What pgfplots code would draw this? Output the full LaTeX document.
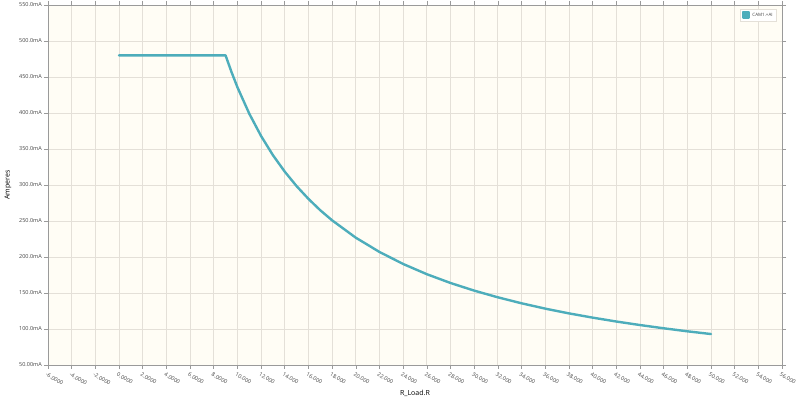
\documentclass[border=0pt]{standalone}
\usepackage{fontspec}
\setmainfont{Open Sans}
\usepackage{pgfplots}
\pgfplotsset{compat=1.18}
\definecolor{curve}{HTML}{4DADBB}
\definecolor{plotbg}{HTML}{FFFDF5}
\definecolor{gridc}{HTML}{E4E0D8}
\definecolor{axisc}{HTML}{9A9A9A}
\definecolor{labc}{HTML}{444444}
\begin{document}
\begin{tikzpicture}
\begin{axis}[
  scale only axis,
  width=734pt, height=360pt,
  xmin=-6, xmax=56, ymin=50, ymax=550,
  axis background/.style={fill=plotbg},
  axis line style={axisc, line width=0.8pt},
  grid=major,
  major grid style={gridc, line width=0.8pt},
  tick align=outside,
  major tick length=4pt,
  tick style={axisc, line width=0.6pt},
  xtick={-6,-4,...,56},
  xticklabels={-6.0000,-4.0000,-2.0000,0.0000,2.0000,4.0000,6.0000,8.0000,10.000,12.000,14.000,16.000,18.000,20.000,22.000,24.000,26.000,28.000,30.000,32.000,34.000,36.000,38.000,40.000,42.000,44.000,46.000,48.000,50.000,52.000,54.000,56.000},
  ytick={50,100,...,550},
  yticklabels={50.00mA,100.0mA,150.0mA,200.0mA,250.0mA,300.0mA,350.0mA,400.0mA,450.0mA,500.0mA,550.0mA},
  xticklabel style={font=\fontsize{5.5}{6}\selectfont, labc, rotate=-30, anchor=north west, inner sep=1pt, yshift=-2pt, xshift=0pt},
  yticklabel style={font=\fontsize{5.5}{6}\selectfont, labc, inner sep=1pt, xshift=-1pt},
  xlabel={R\_Load.R},
  ylabel={Amperes},
  xlabel style={font=\fontsize{7}{8}\selectfont, at={(axis description cs:0.5,0)}, anchor=center, yshift=-28pt},
  ylabel style={font=\fontsize{7}{8}\selectfont, at={(axis description cs:-0.0545,0.5)}, anchor=center},
  legend style={at={(rel axis cs:0.993,0.99)}, anchor=north east, draw=gridc, fill=white, font=\fontsize{4.5}{5.5}\selectfont, text=labc, inner sep=2pt, row sep=0pt},
  legend cell align=left,
  legend image code/.code={\fill[curve] (0pt,-2.5pt) rectangle (6pt,3pt);},
]
\addplot[curve, line width=2.4pt, line join=round, line cap=round] coordinates {
(0,480) (9,480) (9.5,456.9) (10,435.8) (11,399.1) (12,368.0) (13,341.4) (14,318.5) (15,298.4) (16,280.7) (17,264.9) (18,250.9) (20,226.8) (22,207.0) (24,190.3) (26,176.1) (28,163.9) (30,153.3) (32,144.0) (34,135.7) (36,128.3) (38,121.7) (40,115.8) (42,110.4) (44,105.5) (46,101.0) (48,96.8) (50,93.0)
};
\addlegendentry{CAM1.+AI}
\end{axis}
\pgfresetboundingbox
\path (-48pt,-41pt) rectangle (752pt,365pt);
\end{tikzpicture}
\end{document}
